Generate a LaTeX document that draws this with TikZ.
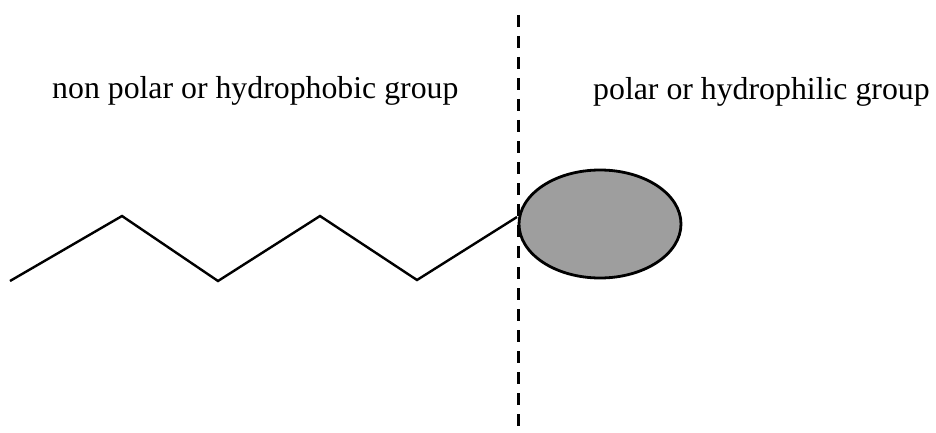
\documentclass[tikz,border=0pt]{standalone}
\usepackage{fontspec}
\setmainfont{Liberation Serif}
\usetikzlibrary{shapes.geometric}
\definecolor{headgray}{RGB}{158,158,158}
\tikzset{
  label text/.style={inner sep=0pt, anchor=base west, font=\fontsize{31.8}{36}\selectfont},
  divider/.style={line width=3pt, dash pattern=on 12pt off 9pt},
  chain/.style={line width=2.4pt, line join=miter},
  head/.style={ellipse, draw, line width=2.8pt, fill=headgray, minimum width=162pt, minimum height=108pt, inner sep=0pt}
}
\begin{document}
\begin{tikzpicture}[x=1pt, y=-1pt]
\useasboundingbox (0,0) rectangle (936,433);
\coordinate (top) at (518,15);
\coordinate (bot) at (518,433);
\draw[divider] (top) -- (bot);
\node[label text] (phobic) at (52,99) {non polar or hydrophobic group};
\node[label text] (philic) at (593,100) {polar or hydrophilic group};
\node[head] (head) at (600,224) {};
\coordinate (c0) at (10,281);
\coordinate (c1) at (122,216);
\coordinate (c2) at (218,281);
\coordinate (c3) at (320,216);
\coordinate (c4) at (417,280);
\coordinate (c5) at (517,217);
\draw[chain] (c0) -- (c1) -- (c2) -- (c3) -- (c4) -- (c5);
\end{tikzpicture}
\end{document}
